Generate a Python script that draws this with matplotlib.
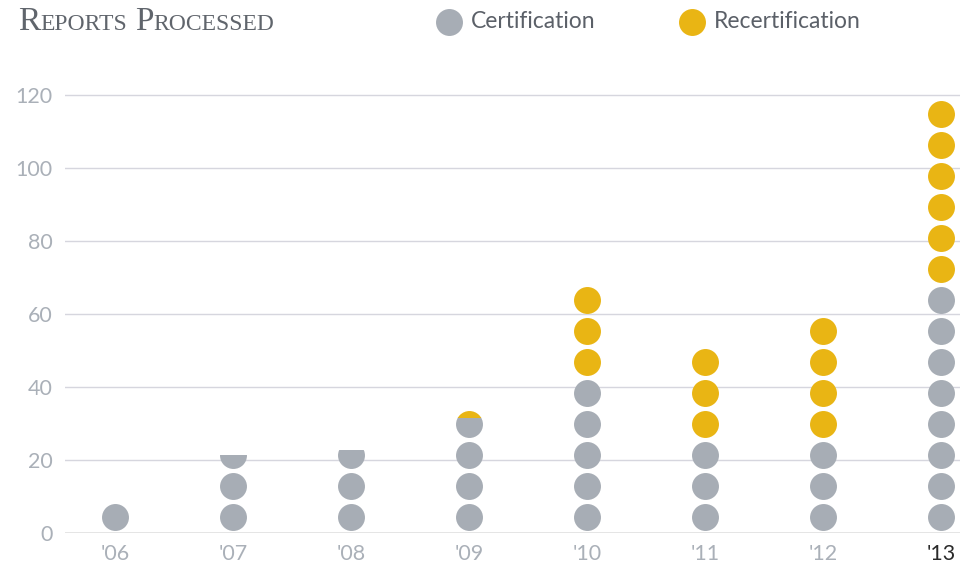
import math
import matplotlib
matplotlib.use("Agg")
import matplotlib.pyplot as plt
from matplotlib.lines import Line2D
from matplotlib.patches import Rectangle

# data (stacked: certification first, recertification on top)
years = ["'06", "'07", "'08", "'09", "'10", "'11", "'12", "'13"]
certification = [8.5, 21.4, 22.7, 31.8, 42.5, 25.5, 25.5, 68.0]
recertification = [0.0, 0.0, 0.0, 2.2, 25.5, 25.5, 34.0, 51.0]
y_ticks = [0, 20, 40, 60, 80, 100, 120]

GREY = "#a7adb5"
GOLD = "#e9b514"
LABEL = "#aab0b8"
TEXT = "#5b6068"
STEP = 8.5       # vertical spacing of the dots, in data units
DOT_PT = 19.4    # marker diameter in points

plt.rcParams["font.family"] = ["Lato", "DejaVu Sans"]

W, H = 971, 569
fig = plt.figure(figsize=(W / 100, H / 100), dpi=100)
ax = fig.add_axes([65 / W, 36 / H, 895 / W, 456 / H])
ax.set_xlim(-0.424, 7.161)
ax.set_ylim(0, 125)


def dot_column(x, lo, hi, color):
    # column of dots on the common grid, clipped to the band [lo, hi]
    if hi <= lo:
        return
    first = int(math.floor(lo / STEP))
    last = int(math.ceil(hi / STEP))
    ys = [(i + 0.5) * STEP for i in range(first, last)]
    sc = ax.scatter([x] * len(ys), ys, s=DOT_PT ** 2, color=color,
                    linewidths=0, zorder=3)
    clip = Rectangle((x - 0.4, lo), 0.8, hi - lo, transform=ax.transData)
    sc.set_clip_path(clip)


for i, (c, r) in enumerate(zip(certification, recertification)):
    dot_column(i, 0, c, GREY)
    dot_column(i, c, c + r, GOLD)

# grid and axes styling
for v in y_ticks[1:]:
    ax.axhline(v, color="#d6d6de", lw=1, zorder=1)
ax.axhline(0, color="#e2e2e2", lw=2, zorder=1)
for s in ax.spines.values():
    s.set_visible(False)
ax.set_yticks(y_ticks)
ax.set_yticklabels([str(v) for v in y_ticks])
ax.set_xticks(range(len(years)))
ax.set_xticklabels(years)
ax.tick_params(axis="both", length=0, labelsize=15.5, labelcolor=LABEL)
ax.tick_params(axis="y", pad=9)
ax.tick_params(axis="x", pad=8)
ax.get_xticklabels()[-1].set_color("#2a2a2a")

# legend
for xc, name, col in [(449, "Certification", GREY), (692, "Recertification", GOLD)]:
    fig.add_artist(Line2D([xc / W], [1 - 22 / H], marker="o", ms=DOT_PT,
                          color=col, mec="none", transform=fig.transFigure))
    fig.text((xc + 22) / W, 1 - 22 / H, name, fontsize=16.5, color=TEXT,
             va="center", ha="left")

# small-caps serif title
renderer = fig.canvas.get_renderer()
x = 18 / W
base = 1 - 30 / H
for word in ["Reports", "Processed"]:
    t = fig.text(x, base, word[0], fontsize=24, color="#60656c",
                 family="Liberation Serif", va="baseline")
    x = t.get_window_extent(renderer).x1 / W
    t = fig.text(x, base, word[1:].upper(), fontsize=17, color="#60656c",
                 family="Liberation Serif", va="baseline")
    x = t.get_window_extent(renderer).x1 / W + 8 / W

fig.savefig("out.png", dpi=100)
